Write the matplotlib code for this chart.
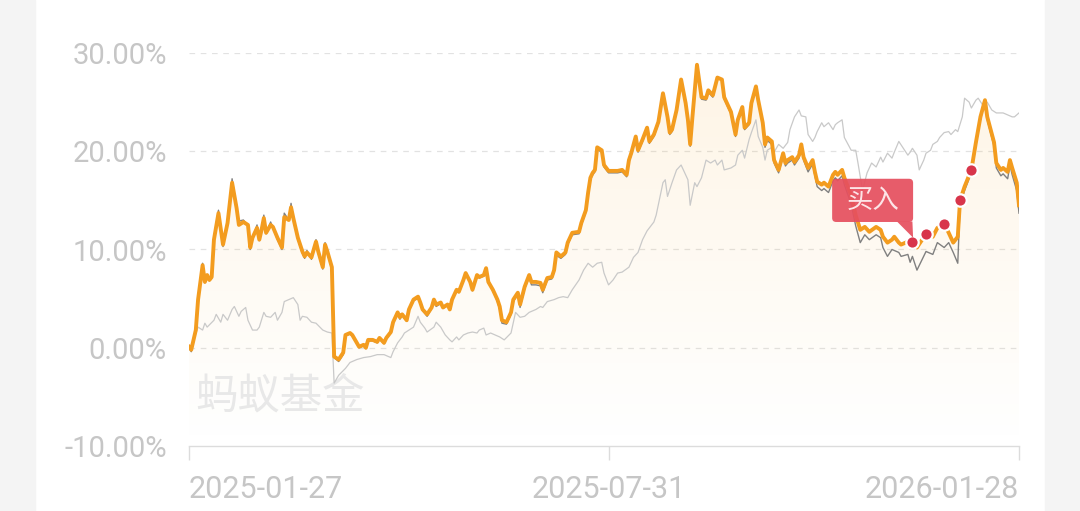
import numpy as np
import matplotlib
matplotlib.use("Agg")
import matplotlib.pyplot as plt
from matplotlib.patches import Rectangle, FancyBboxPatch, Polygon

plt.rcParams['font.family'] = ['Roboto', 'Noto Sans CJK SC', 'DejaVu Sans']

# days since 2025-01-27
days = [0, 1, 3, 4, 6, 7, 8, 9, 10, 11, 13, 15, 17, 19, 21, 22, 24, 26, 27, 28,
        30, 31, 32, 33, 34, 36, 37, 39, 41, 42, 44, 45, 46, 48, 50, 51, 52, 54, 56, 57,
        59, 60, 61, 63, 64, 66, 68, 69, 71, 72, 74, 75, 77, 78, 79, 81, 83, 84, 86, 87,
        89, 90, 92, 93, 94, 96, 97, 99, 101, 102, 103, 105, 107, 108, 109, 111, 112, 114, 115, 116,
        118, 119, 121, 122, 124, 125, 127, 128, 130, 131, 132, 134, 136, 137, 138, 140, 142, 143, 145, 146,
        148, 150, 151, 153, 155, 156, 158, 160, 161, 162, 164, 166, 167, 169, 172, 173, 175, 176, 177, 178,
        179, 180, 182, 183, 185, 187, 189, 191, 193, 194, 195, 197, 198, 200, 202, 203, 205, 207, 209, 211,
        212, 213, 215, 217, 219, 220, 221, 222, 224, 226, 228, 229, 231, 232, 233, 235, 236, 238, 239, 241,
        242, 244, 245, 247, 248, 250, 251, 253, 254, 255, 257, 258, 260, 262, 263, 264, 266, 267, 269, 270,
        271, 273, 275, 276, 277, 279, 280, 282, 284, 285, 286, 288, 289, 292, 294, 296, 298, 300, 303, 305,
        306, 308, 310, 311, 313, 314, 317, 318, 319, 321, 325, 328, 330, 333, 335, 337, 339, 340, 342, 345,
        347, 349, 351, 352, 355, 356, 358, 359, 361, 362, 363, 365, 366]

# fund return (%)
fund = [0.1, -0.2, 1.8, 4.9, 8.4, 6.7, 7.4, 6.9, 7.2, 11.0, 13.7, 10.5, 12.7, 16.8, 14.2, 12.5, 12.8, 12.5, 10.2, 11.2,
        12.2, 11.0, 12.0, 13.2, 11.7, 12.5, 12.3, 11.2, 10.2, 13.3, 13.0, 14.3, 13.2, 11.2, 9.8, 9.3, 9.7, 9.2, 10.8, 9.8,
        8.2, 10.5, 9.8, 8.2, -0.9, -1.2, -0.5, 1.3, 1.5, 1.3, 0.5, 0.1, 0.3, 0.0, 0.8, 0.8, 0.6, 1.0, 0.5, 1.0,
        1.6, 2.6, 3.6, 3.1, 3.4, 2.8, 3.9, 4.9, 5.2, 4.6, 3.9, 3.4, 4.1, 4.9, 4.4, 4.6, 4.1, 4.4, 3.9, 4.9,
        5.9, 5.7, 6.9, 7.6, 6.7, 5.9, 7.4, 7.2, 7.4, 8.1, 6.7, 5.9, 4.9, 4.2, 2.8, 2.6, 3.6, 4.9, 5.6, 4.4,
        6.2, 7.4, 6.7, 6.7, 6.6, 5.9, 7.1, 7.2, 7.9, 9.7, 9.3, 9.7, 10.7, 11.7, 11.8, 12.7, 14.0, 15.8, 17.3, 17.8,
        18.1, 20.4, 20.1, 18.6, 18.0, 18.0, 18.0, 18.1, 17.6, 19.1, 19.8, 21.5, 20.1, 21.2, 22.4, 21.0, 21.7, 23.0, 25.9, 23.5,
        21.9, 22.2, 24.2, 27.3, 24.9, 23.2, 20.7, 23.5, 28.8, 25.5, 25.4, 26.2, 25.7, 26.6, 27.5, 27.3, 25.5, 24.5, 24.0, 21.7,
        23.2, 24.5, 22.4, 22.9, 24.9, 26.6, 25.2, 22.9, 20.7, 21.4, 21.0, 19.1, 18.1, 19.8, 18.8, 19.1, 19.4, 18.9, 19.6, 20.7,
        19.4, 18.3, 19.1, 17.9, 16.9, 16.6, 16.8, 16.4, 17.6, 17.9, 17.6, 18.1, 17.3, 15.5, 13.5, 12.0, 12.3, 11.8, 12.3, 12.0,
        11.3, 10.7, 11.0, 11.3, 10.7, 10.5, 10.8, 10.3, 10.8, 10.2, 11.6, 11.3, 12.2, 12.6, 11.7, 10.7, 11.3, 15.0, 16.4, 18.1,
        20.9, 23.5, 25.2, 23.5, 20.9, 18.8, 18.1, 18.3, 17.9, 19.1, 18.3, 16.8, 14.5]

# position return (%), mostly hidden under the fund line
position = [0.0, -0.4, 1.6, 4.8, 8.6, 6.6, 7.3, 6.8, 7.1, 11.3, 14.0, 10.3, 12.9, 17.2, 14.3, 12.9, 13.0, 12.4, 10.0, 11.1,
            12.5, 10.9, 12.1, 13.5, 11.6, 12.8, 12.2, 11.0, 10.0, 13.7, 13.0, 14.7, 13.1, 11.0, 9.6, 9.1, 9.9, 9.0, 11.0, 9.6,
            8.0, 10.7, 9.6, 8.0, -1.0, -1.4, -0.7, 1.2, 1.4, 1.2, 0.4, 0.0, 0.2, -0.1, 0.7, 0.7, 0.5, 0.9, 0.4, 0.9,
            1.5, 2.5, 3.5, 2.9, 3.3, 2.7, 3.8, 4.8, 5.0, 4.5, 3.8, 3.2, 4.0, 4.8, 4.2, 4.5, 4.0, 4.3, 3.8, 4.8,
            5.8, 5.6, 6.8, 7.5, 6.6, 5.8, 7.3, 7.1, 7.3, 8.0, 6.6, 5.8, 4.7, 3.9, 2.5, 2.4, 3.4, 4.7, 5.4, 4.1,
            6.0, 7.2, 6.4, 6.4, 6.3, 5.6, 6.9, 7.0, 7.7, 9.4, 9.1, 9.5, 10.5, 11.5, 11.6, 12.5, 13.8, 15.6, 17.1, 17.6,
            17.9, 20.2, 19.9, 18.4, 17.8, 17.8, 17.8, 17.9, 17.4, 18.9, 19.6, 21.3, 19.9, 21.0, 22.2, 20.8, 21.5, 22.8, 25.8, 23.3,
            21.7, 22.0, 24.0, 27.3, 24.7, 23.0, 20.5, 23.3, 28.9, 25.3, 25.2, 26.0, 25.5, 26.4, 27.5, 27.2, 25.3, 24.3, 23.8, 21.5,
            23.0, 24.3, 22.2, 22.7, 24.7, 26.5, 25.0, 22.7, 20.4, 21.1, 20.7, 18.8, 17.8, 19.5, 18.5, 18.8, 19.1, 18.6, 19.3, 20.4,
            19.1, 17.9, 18.7, 17.5, 16.4, 16.0, 16.2, 15.8, 17.0, 17.3, 17.0, 17.5, 16.6, 14.6, 12.4, 10.7, 11.5, 11.0, 11.5, 11.2,
            10.2, 9.3, 10.0, 9.9, 9.7, 9.3, 9.5, 8.7, 9.3, 7.9, 9.8, 9.5, 10.7, 10.2, 10.7, 9.7, 8.6, 14.5, 16.0, 17.8,
            20.6, 23.3, 25.1, 23.2, 20.5, 18.3, 17.5, 17.7, 17.2, 18.6, 17.6, 16.0, 13.7]

# benchmark return (%)
bench_days = [0, 2, 4, 6, 7, 8, 11, 12, 14, 15, 17, 19, 20, 22, 23, 25, 26, 28, 30, 31,
              33, 34, 36, 38, 39, 41, 42, 44, 46, 48, 49, 50, 52, 54, 56, 59, 61, 63, 64, 66,
              69, 71, 74, 77, 80, 83, 86, 89, 90, 92, 94, 95, 97, 99, 101, 102, 104, 105, 108, 109,
              111, 113, 115, 116, 118, 119, 121, 123, 125, 127, 128, 130, 131, 133, 135, 137, 139, 142, 144, 146,
              148, 150, 153, 155, 156, 158, 161, 163, 165, 167, 169, 172, 174, 176, 178, 180, 182, 183, 185, 187,
              189, 191, 194, 196, 198, 200, 202, 205, 206, 209, 210, 211, 213, 215, 217, 220, 221, 223, 224, 226,
              228, 230, 232, 233, 235, 236, 239, 241, 242, 244, 245, 247, 248, 250, 251, 253, 254, 255, 257, 258,
              260, 262, 264, 265, 267, 269, 270, 272, 273, 275, 276, 277, 279, 280, 282, 284, 285, 286, 288, 289,
              292, 294, 295, 297, 299, 301, 303, 305, 306, 308, 310, 311, 313, 315, 317, 318, 319, 321, 322, 324,
              325, 327, 328, 330, 331, 333, 335, 336, 338, 339, 341, 342, 344, 345, 347, 348, 350, 352, 354, 356,
              359, 361, 363, 364, 366]
bench = [-0.2, 0.8, 2.1, 1.8, 2.5, 2.1, 2.8, 3.4, 2.6, 3.4, 2.8, 3.9, 4.2, 3.2, 3.7, 4.1, 2.8, 1.8, 1.8, 2.1,
         3.6, 3.2, 3.1, 3.6, 2.8, 3.6, 4.7, 4.9, 5.1, 4.4, 2.8, 3.2, 3.1, 2.6, 2.5, 1.8, 1.6, 1.5, -3.6, -2.8,
         -2.1, -1.5, -1.2, -1.0, -0.9, -0.7, -0.7, -1.0, -0.4, 0.5, 1.1, 1.5, 1.8, 2.1, 3.2, 2.6, 2.0, 1.6, 2.1, 2.6,
         2.1, 1.3, 0.8, 0.6, 1.1, 0.8, 1.3, 1.5, 1.6, 1.5, 1.8, 2.0, 1.3, 1.5, 1.3, 1.1, 0.8, 1.5, 3.6, 3.1,
         3.2, 3.6, 3.9, 4.2, 4.1, 4.7, 4.9, 5.1, 5.2, 5.1, 5.9, 6.9, 7.9, 8.6, 8.2, 8.6, 8.7, 7.6, 6.4, 6.9,
         7.6, 7.7, 8.2, 9.2, 9.7, 11.0, 11.9, 12.8, 13.5, 16.8, 17.1, 15.4, 16.8, 18.1, 18.6, 17.1, 14.5, 16.8, 16.4, 17.3,
         19.1, 18.8, 19.1, 18.6, 19.1, 18.1, 18.3, 18.6, 19.6, 20.1, 19.3, 21.2, 21.9, 23.2, 21.5, 20.4, 19.1, 20.1, 20.4, 19.9,
         20.7, 20.3, 20.9, 22.2, 23.5, 24.2, 23.6, 23.5, 21.7, 21.0, 21.4, 22.0, 22.9, 22.5, 22.9, 22.2, 22.7, 22.9, 23.2, 21.4,
         20.1, 20.1, 18.8, 16.0, 17.8, 18.8, 18.4, 19.4, 18.9, 19.8, 19.3, 19.9, 21.0, 20.3, 19.6, 19.9, 20.3, 19.6, 18.1, 19.1,
         19.8, 20.1, 20.7, 21.0, 21.4, 21.9, 22.0, 21.7, 22.2, 22.0, 23.5, 25.4, 25.0, 24.4, 25.2, 25.4, 24.7, 25.0, 24.2, 23.9,
         23.9, 23.7, 23.5, 23.5, 23.9]

buy_days = [319, 325, 333, 340, 345]
buy_vals = [10.8, 11.6, 12.6, 15.0, 18.1]

tick_days = [0, 185, 366]
tick_labels = ["2025-01-27", "2025-07-31", "2026-01-28"]
y_ticks = [-10, 0, 10, 20, 30]

fig = plt.figure(figsize=(10.8, 5.11), dpi=100)
fig.patches.append(Rectangle((0, 0), 35 / 1080, 1, transform=fig.transFigure, color="#f4f4f4", zorder=0))
fig.patches.append(Rectangle((1045 / 1080, 0), 35 / 1080, 1, transform=fig.transFigure, color="#f4f4f4", zorder=0))

ax = fig.add_axes([189 / 1080, 65 / 511, 830 / 1080, 393 / 511])
ax.set_xlim(0, 366)
ax.set_ylim(-10, 30)
ax.patch.set_alpha(0)

# gridlines
for v in y_ticks[1:]:
    ax.axhline(v, color="#e2e2e2", lw=0.9, dashes=(4.5, 4.5), zorder=1)

# gradient fill under the fund line
poly = ax.fill_between(days, fund, -10, color="none", lw=0)
grad = np.linspace(1, 0, 256)
rgba = np.zeros((256, 1, 4))
rgba[:, 0, 0] = 0.98
rgba[:, 0, 1] = 0.72
rgba[:, 0, 2] = 0.30
rgba[:, 0, 3] = 0.15 * grad
img = ax.imshow(rgba, extent=[0, 366, -10, 30], aspect="auto", origin="upper", zorder=2)
img.set_clip_path(poly.get_paths()[0], transform=ax.transData)

ax.plot(bench_days, bench, color="#c9c9c9", lw=0.9, zorder=3)
ax.plot(days, position, color="#808080", lw=1.0, zorder=4)
ax.plot(days, fund, color="#f39c1f", lw=2.8, zorder=5, solid_joinstyle="round")

ax.scatter(buy_days, buy_vals, s=80, color="#d8354b", edgecolors="white", linewidths=1.6, zorder=6)

# buy label
box = FancyBboxPatch((283.6, 12.8), 35.7, 4.4, boxstyle="round,pad=0,rounding_size=1.8",
                     mutation_aspect=0.23, fc="#e6505f", ec="none", alpha=0.93, zorder=7)
ax.add_patch(box)
ax.add_patch(Polygon([(312.2, 12.85), (319.0, 12.85), (319.3, 11.2)], closed=True,
                     fc="#e6505f", ec="none", alpha=0.93, zorder=7))
ax.text(301.4, 14.95, "买入", color="#fde4e7", fontsize=19, ha="center", va="center",
        family=["Noto Sans CJK SC"], zorder=8)

# watermark
ax.text(2.6, -5.0, "蚂蚁基金", color="#e8e8e8", fontsize=30.5, ha="left", va="center",
        family=["Noto Sans CJK SC"], zorder=2)

for s in ["top", "right", "left"]:
    ax.spines[s].set_visible(False)
ax.spines["bottom"].set_color("#dcdcdc")
ax.spines["bottom"].set_linewidth(1.0)

ax.set_yticks(y_ticks)
ax.set_yticklabels([f"{v:.2f}%" for v in y_ticks])
ax.tick_params(axis="y", length=0, pad=16, labelsize=21, labelcolor="#c6c6c6")
ax.set_xticks(tick_days)
ax.set_xticklabels(tick_labels)
ax.tick_params(axis="x", length=10, width=1, color="#dcdcdc", pad=11, labelsize=22, labelcolor="#c6c6c6")
labels = ax.get_xticklabels()
labels[0].set_ha("left")
labels[-1].set_ha("right")

fig.savefig("out.png", dpi=100)
